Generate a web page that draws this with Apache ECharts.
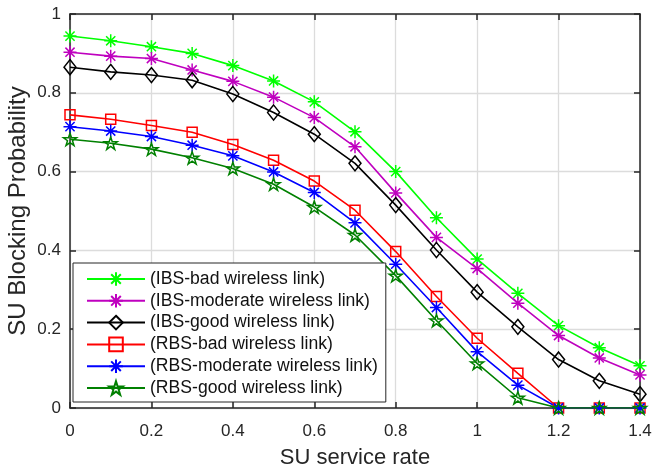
<!DOCTYPE html>
<html>
<head>
<meta charset="utf-8">
<title>SU Blocking Probability</title>
<script src="https://cdn.jsdelivr.net/npm/echarts@6/dist/echarts.min.js"></script>
<style>
	html, body { margin: 0; padding: 0; background: #fff; }
	#chart { width: 654px; height: 469px; }
</style>
</head>
<body>
<div id="chart"></div>
<script>
'use strict'
/*--data--*/
var xValues = [0, 0.1, 0.2, 0.3, 0.4, 0.5, 0.6, 0.7, 0.8, 0.9, 1.0, 1.1, 1.2, 1.3, 1.4];
var xTicks = [0, 0.2, 0.4, 0.6, 0.8, 1, 1.2, 1.4];
var yTicks = [0, 0.2, 0.4, 0.6, 0.8, 1];
var seriesNames = [
	'(IBS-bad wireless link)',
	'(IBS-moderate wireless link)',
	'(IBS-good wireless link)',
	'(RBS-bad wireless link)',
	'(RBS-moderate wireless link)',
	'(RBS-good wireless link)'
];
var ibsBad = [0.944, 0.932, 0.917, 0.900, 0.869, 0.830, 0.777, 0.701, 0.600, 0.483, 0.378, 0.291, 0.209, 0.153, 0.107];
var ibsModerate = [0.903, 0.893, 0.887, 0.858, 0.829, 0.789, 0.737, 0.663, 0.546, 0.433, 0.354, 0.266, 0.184, 0.127, 0.084];
var ibsGood = [0.865, 0.853, 0.845, 0.832, 0.797, 0.750, 0.695, 0.621, 0.515, 0.401, 0.294, 0.206, 0.123, 0.069, 0.035];
var rbsBad = [0.744, 0.733, 0.717, 0.700, 0.669, 0.629, 0.576, 0.502, 0.397, 0.283, 0.177, 0.088, 0, 0, 0];
var rbsModerate = [0.714, 0.703, 0.689, 0.667, 0.640, 0.599, 0.547, 0.470, 0.365, 0.255, 0.143, 0.058, 0, 0, 0];
var rbsGood = [0.682, 0.672, 0.657, 0.635, 0.608, 0.568, 0.510, 0.439, 0.336, 0.222, 0.113, 0.026, 0, 0, 0];

/*--marker shapes--*/
var asterisk = 'path://M0,-10L0,10M-10,0L10,0M-7.07,-7.07L7.07,7.07M-7.07,7.07L7.07,-7.07';
var pentagram = 'path://M0,-10L2.245,-3.09L9.511,-3.09L3.633,1.18L5.878,8.09L0,3.82L-5.878,8.09L-3.633,1.18L-9.511,-3.09L-2.245,-3.09Z';

var font = '"Liberation Sans", Arial, Helvetica, sans-serif';
var axisColor = '#262626';

function pairs(ys) {
	return xValues.map(function(x, i) { return [x, ys[i]]; });
}

function fmt(v) {
	return String(+v.toFixed(1));
}

function makeSeries(name, ys, color, symbol, size) {
	return {
		name: name,
		type: 'line',
		data: pairs(ys),
		symbol: symbol,
		symbolSize: size,
		symbolKeepAspect: true,
		showAllSymbol: true,
		color: color,
		lineStyle: { color: color, width: 1.6 },
		itemStyle: { color: 'rgba(0,0,0,0)', borderColor: color, borderWidth: 1.5 },
		emphasis: { disabled: true },
		animation: false
	};
}

var chart = echarts.init(document.getElementById('chart'), null, { renderer: 'canvas' });
var option = {
	animation: false,
	textStyle: { fontFamily: font },
	grid: {
		left: 70,
		right: 14,
		top: 14,
		bottom: 61,
		containLabel: false,
		outerBoundsMode: 'none'
	},
	legend: {
		orient: 'vertical',
		left: 73,
		top: 263,
		padding: [7, 8, 5, 13],
		itemWidth: 58,
		itemHeight: 17,
		itemGap: 3.8,
		backgroundColor: '#fff',
		borderColor: axisColor,
		borderWidth: 1,
		borderRadius: 0,
		textStyle: { fontFamily: font, fontSize: 17.6, color: '#111', lineHeight: 17 },
		data: seriesNames
	},
	xAxis: [{
		type: 'value',
		min: 0,
		max: 1.4,
		interval: 0.2,
		name: 'SU service rate',
		nameLocation: 'middle',
		nameGap: 39,
		nameMoveOverlap: false,
		nameTextStyle: { fontFamily: font, fontSize: 22, color: axisColor },
		axisLine: { lineStyle: { color: axisColor, width: 1.5 } },
		axisTick: { inside: true, length: 6, lineStyle: { color: axisColor, width: 1.5 } },
		axisLabel: { margin: 15, fontFamily: font, fontSize: 17, color: axisColor, formatter: fmt },
		splitLine: { show: true, lineStyle: { color: '#dcdcdc', width: 1.3 } }
	}, {
		type: 'value',
		position: 'top',
		min: 0,
		max: 1.4,
		interval: 0.2,
		axisLine: { show: true, onZero: false, lineStyle: { color: axisColor, width: 1.5 } },
		axisTick: { inside: true, length: 6, lineStyle: { color: axisColor, width: 1.5 } },
		axisLabel: { show: false },
		splitLine: { show: false }
	}],
	yAxis: [{
		type: 'value',
		min: 0,
		max: 1,
		interval: 0.2,
		name: 'SU Blocking Probability',
		nameLocation: 'middle',
		nameGap: 40,
		nameMoveOverlap: false,
		nameTextStyle: { fontFamily: font, fontSize: 24, color: axisColor },
		axisLine: { show: true, lineStyle: { color: axisColor, width: 1.5 } },
		axisTick: { show: true, inside: true, length: 6, lineStyle: { color: axisColor, width: 1.5 } },
		axisLabel: { margin: 9, fontFamily: font, fontSize: 17, color: axisColor, formatter: fmt },
		splitLine: { show: true, lineStyle: { color: '#dcdcdc', width: 1.3 } }
	}, {
		type: 'value',
		position: 'right',
		min: 0,
		max: 1,
		interval: 0.2,
		axisLine: { show: true, onZero: false, lineStyle: { color: axisColor, width: 1.5 } },
		axisTick: { show: true, inside: true, length: 6, lineStyle: { color: axisColor, width: 1.5 } },
		axisLabel: { show: false },
		splitLine: { show: false }
	}],
	series: [
		makeSeries(seriesNames[0], ibsBad, '#00ff00', asterisk, 13),
		makeSeries(seriesNames[1], ibsModerate, '#bf00bf', asterisk, 13),
		makeSeries(seriesNames[2], ibsGood, '#000000', 'diamond', [12, 15]),
		makeSeries(seriesNames[3], rbsBad, '#ff0000', 'rect', 10),
		makeSeries(seriesNames[4], rbsModerate, '#0000ff', asterisk, 13),
		makeSeries(seriesNames[5], rbsGood, '#008000', pentagram, 13)
	]
};
chart.setOption(option);
/*--chart--*/
</script>
</body>
</html>
